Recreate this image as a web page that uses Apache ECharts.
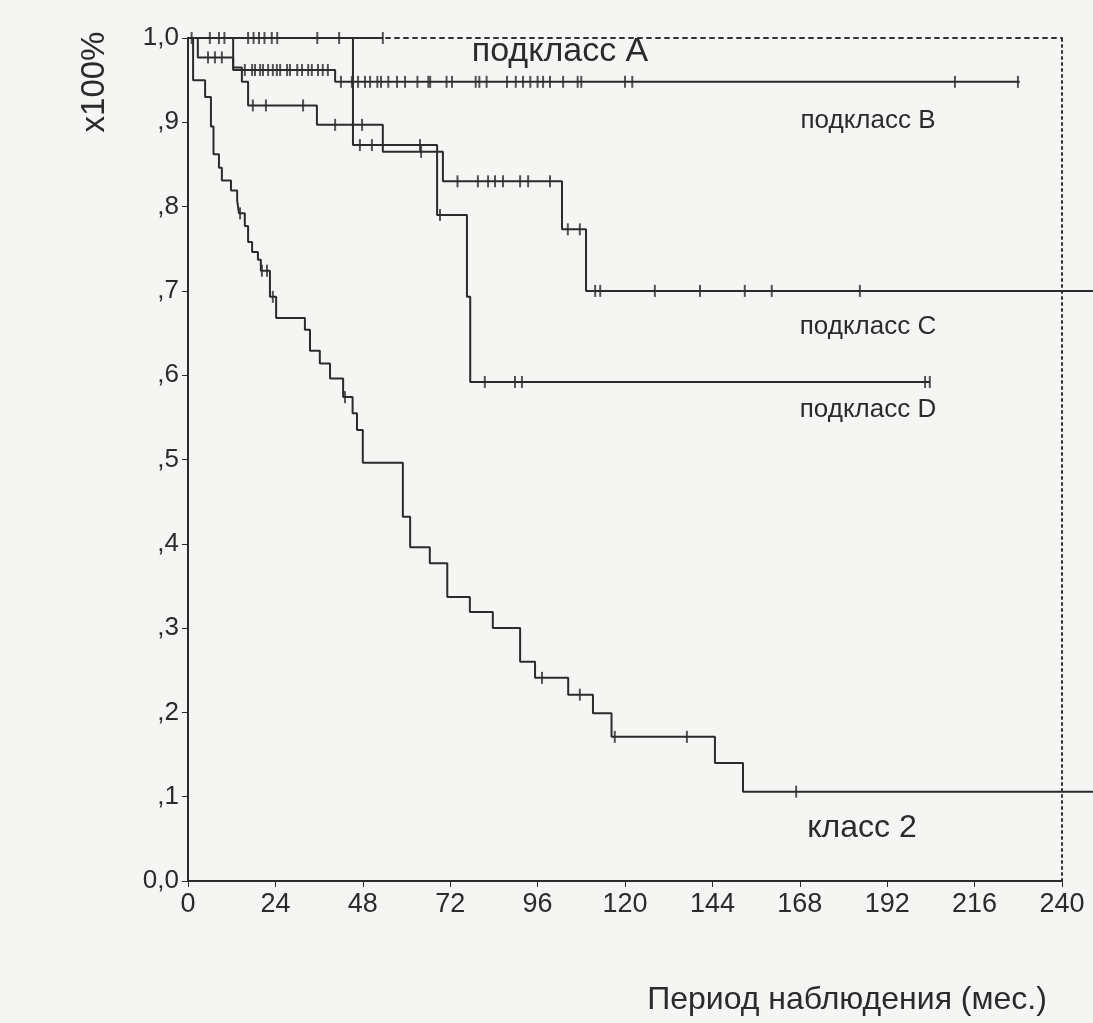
<!DOCTYPE html>
<html lang="ru">
<head>
  <meta charset="utf-8">
  <title>Kaplan-Meier</title>
  <script src="https://cdn.jsdelivr.net/npm/echarts@6/dist/echarts.min.js"></script>
  <style>
    * { margin: 0; padding: 0; }
    body { background: #f5f5f3; }
    #chart { width: 1093px; height: 1023px; }
  </style>
</head>
<body>
  <div id="chart"></div>
  <script>
    // tick labels
    var xTicks = [0, 24, 48, 72, 96, 120, 144, 168, 192, 216, 240];
    var yTickLabels = { '0': '0,0', '1': '1,0' };

    // [month, survival] at each drop; curves start at 1.0
    var class2Steps = [[0, 1], [1.4, 0.950], [4.7, 0.930], [6.3, 0.895], [7.0, 0.862], [8.5, 0.846],
      [9.3, 0.831], [11.8, 0.819], [13.5, 0.807], [14.0, 0.792], [15.6, 0.777], [16.5, 0.758],
      [17.6, 0.746], [19.2, 0.737], [20.0, 0.724], [22.5, 0.693], [24.2, 0.668], [32.1, 0.654],
      [33.5, 0.629], [36.2, 0.614], [39.0, 0.596], [42.6, 0.574], [45.2, 0.555], [46.4, 0.535],
      [48.0, 0.496], [59.0, 0.432], [61.0, 0.396], [66.4, 0.377], [71.2, 0.337], [77.4, 0.319],
      [83.7, 0.300], [91.2, 0.260], [95.3, 0.241], [104.4, 0.221], [111.2, 0.199], [116.3, 0.171],
      [144.7, 0.140], [152.4, 0.106]];
    var class2End = 248.5;
    var class2Censor = [14.3, 20.3, 21.7, 23.3, 43.1, 97.2, 107.6, 117.2, 137, 167];

    var subAEnd = 53.5;
    var subASteps = [[0, 1]];
    var subACensor = [1, 6, 8.5, 10, 16.5, 18, 19.5, 21, 23, 24.5, 35.5, 41.5, 53.5];

    var subBSteps = [[0, 1], [2.7, 0.977], [12.4, 0.962], [40.4, 0.948]];
    var subBEnd = 228.4;
    var subBCensor = [5.5, 7.4, 9.3, 15.6, 17.6, 18.4, 19.8, 20.6, 22, 23.3, 24.4, 25.3, 27.2, 28, 30,
      31.3, 33, 34, 35.7, 37, 38.4, 42, 45, 46.7, 48.6, 50, 52, 53, 55, 57.4, 59.6, 63, 66, 66.5, 71,
      72.5, 79, 80, 82, 87.6, 90, 92, 94, 96, 97.5, 99.4, 103, 107, 108, 120, 122, 210.6, 227.9];

    var subCSteps = [[0, 1], [12.4, 0.965], [14.8, 0.948], [16.5, 0.920], [35.4, 0.897], [53.5, 0.865],
      [70.0, 0.830], [102.7, 0.773], [109.3, 0.700]];
    var subCEnd = 248.5;
    var subCCensor = [17.8, 21.4, 31.6, 40.4, 45.3, 47.8, 64, 74, 79.6, 82.4, 84.3, 86.5, 91.2, 93.4,
      99.4, 104.3, 107.6, 111.8, 113.2, 128.2, 140.6, 152.9, 160.3, 184.5];

    var subDSteps = [[0, 1], [45.3, 0.873], [68.4, 0.790], [76.6, 0.693], [77.5, 0.592]];
    var subDEnd = 203.7;
    var subDCensor = [47.2, 50.5, 63.7, 69.2, 81.5, 89.8, 91.7, 202.4, 203.7];

    var ink = '#2b2b2b';
    var font = 'Liberation Sans, Arial, sans-serif';

    // plot frame: 0..240 months; curves run on past 240 to the page edge
    var gridLeft = 188, gridRight = 31, pageW = 1093;
    var plotW = pageW - gridLeft - gridRight;
    var xMaxExt = 240 * (plotW + gridRight) / plotW;

    function survAt(steps, t) {
      var v = steps[0][1];
      for (var i = 0; i < steps.length; i++) if (steps[i][0] <= t) v = steps[i][1];
      return v;
    }

    function curve(steps, end) {
      return {
        type: 'line', step: 'end', symbol: 'none', silent: true,
        xAxisIndex: 2, yAxisIndex: 2,
        lineStyle: { color: ink, width: 2 },
        data: steps.concat([[end, steps[steps.length - 1][1]]])
      };
    }

    function censors(steps, times) {
      return {
        type: 'scatter', silent: true, clip: false,
        xAxisIndex: 2, yAxisIndex: 2,
        symbol: 'rect', symbolSize: [2, 12],
        itemStyle: { color: ink },
        data: times.map(function (t) { return [t, survAt(steps, t)]; })
      };
    }

    var chart = echarts.init(document.getElementById('chart'));

    chart.setOption({
      backgroundColor: '#f5f5f3',
      animation: false,
      grid: [
        { left: gridLeft, right: gridRight, top: 38, bottom: 142 },
        { left: gridLeft, right: 0, top: 38, bottom: 142 }
      ],
      xAxis: [{
        gridIndex: 0, type: 'value', min: 0, max: 240, interval: 24,
        axisLine: { onZero: false, lineStyle: { color: ink, width: 2 } },
        axisTick: { length: 6, lineStyle: { color: ink } },
        axisLabel: { color: ink, fontSize: 27, fontFamily: font, margin: 10,
          formatter: function (v) { return xTicks.indexOf(v) >= 0 ? String(v) : ''; } },
        splitLine: { show: false }
      }, {
        gridIndex: 0, type: 'value', min: 0, max: 240, position: 'top',
        axisLine: { show: true, onZero: false, lineStyle: { color: '#333', width: 2, type: [4, 5] } },
        axisTick: { show: false }, axisLabel: { show: false }, splitLine: { show: false }
      }, {
        gridIndex: 1, type: 'value', min: 0, max: xMaxExt, show: false
      }],
      yAxis: [{
        gridIndex: 0, type: 'value', min: 0, max: 1, interval: 0.1,
        axisLine: { show: true, onZero: false, lineStyle: { color: ink, width: 2 } },
        axisTick: { show: true, length: 6, lineStyle: { color: ink } },
        axisLabel: { color: ink, fontSize: 26, fontFamily: font, margin: 9,
          formatter: function (v) {
            var k = Math.round(v * 10);
            if (k === 0) return yTickLabels['0'];
            if (k === 10) return yTickLabels['1'];
            return ',' + k;
          } },
        splitLine: { show: false }
      }, {
        gridIndex: 0, type: 'value', min: 0, max: 1, position: 'right',
        axisLine: { show: true, onZero: false, lineStyle: { color: '#333', width: 2, type: [2, 4] } },
        axisTick: { show: false }, axisLabel: { show: false }, splitLine: { show: false }
      }, {
        gridIndex: 1, type: 'value', min: 0, max: 1, show: false
      }],
      series: [
        curve(subASteps, subAEnd), censors(subASteps, subACensor),
        curve(subBSteps, subBEnd), censors(subBSteps, subBCensor),
        curve(subCSteps, subCEnd), censors(subCSteps, subCCensor),
        curve(subDSteps, subDEnd), censors(subDSteps, subDCensor),
        curve(class2Steps, class2End), censors(class2Steps, class2Censor)
      ],
      graphic: [
        { type: 'text', x: 560, y: 52, style: { text: 'подкласс A', fill: ink, font: '34px ' + font, textAlign: 'center', textVerticalAlign: 'middle' } },
        { type: 'text', x: 868, y: 121, style: { text: 'подкласс B', fill: ink, font: '26px ' + font, textAlign: 'center', textVerticalAlign: 'middle' } },
        { type: 'text', x: 868, y: 327, style: { text: 'подкласс C', fill: ink, font: '26px ' + font, textAlign: 'center', textVerticalAlign: 'middle' } },
        { type: 'text', x: 868, y: 410, style: { text: 'подкласс D', fill: ink, font: '26px ' + font, textAlign: 'center', textVerticalAlign: 'middle' } },
        { type: 'text', x: 862, y: 828, style: { text: 'класс 2', fill: ink, font: '32px ' + font, textAlign: 'center', textVerticalAlign: 'middle' } },
        { type: 'text', x: 847, y: 1000, style: { text: 'Период наблюдения (мес.)', fill: ink, font: '32px ' + font, textAlign: 'center', textVerticalAlign: 'middle' } },
        { type: 'text', x: 95, y: 82, rotation: Math.PI / 2, style: { text: 'x100%', fill: ink, font: '33px ' + font, textAlign: 'center', textVerticalAlign: 'middle' } }
      ]
    });

    window.addEventListener('resize', chart.resize);
  </script>
</body>
</html>
